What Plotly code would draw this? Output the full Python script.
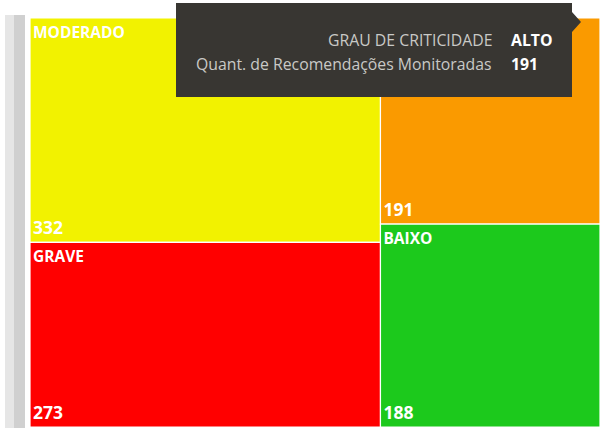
import plotly.graph_objects as go

categories = ["MODERADO", "GRAVE", "ALTO", "BAIXO"]
values = [332, 273, 191, 188]
colors = ["#F2F200", "#FF0000", "#FA9A00", "#1CC91C"]

tooltip_labels = ["GRAU DE CRITICIDADE", "Quant. de Recomendações Monitoradas"]
tooltip_values = ["ALTO", "191"]
hovered = "ALTO"  # its tile label is covered by the tooltip

W, H = 600, 428
L, R, T, B = 30, 0, 18, 1
PW, PH = W - L - R, H - T - B

def px(x):
    return (x - L) / PW

def py(y):
    return 1 - (y - T) / PH

fig = go.Figure()

common = dict(
    labels=categories,
    parents=[""] * len(categories),
    values=values,
    sort=True,
    tiling=dict(packing="squarify", squarifyratio=1, pad=0),
    pathbar=dict(visible=False),
    hoverinfo="skip",
)

fig.add_trace(go.Treemap(
    **common,
    marker=dict(colors=colors, line=dict(color="#FFFFFF", width=1.2),
                pad=dict(t=0, l=0, r=0, b=0)),
    texttemplate=["" if c == hovered else "<b>%{label}</b>" for c in categories],
    textposition="top left",
    textfont=dict(family="Open Sans", size=15.5, color="#FFFFFF"),
))
fig.add_trace(go.Treemap(
    **common,
    marker=dict(colors=["rgba(0,0,0,0)"] * 4, line=dict(color="rgba(0,0,0,0)", width=0),
                pad=dict(t=0, l=0, r=0, b=0)),
    texttemplate="<b>%{value}</b>",
    textposition="bottom left",
    textfont=dict(family="Open Sans", size=17.5, color="#FFFFFF"),
))

shapes = []
# left gray shadow bar
shapes.append(dict(type="rect", xref="paper", yref="paper",
                   x0=px(5), x1=px(14), y0=py(15), y1=py(428),
                   fillcolor="#E6E6E6", line=dict(width=0), layer="below"))
shapes.append(dict(type="rect", xref="paper", yref="paper",
                   x0=px(14), x1=px(25), y0=py(15), y1=py(428),
                   fillcolor="#D0D0D0", line=dict(width=0), layer="below"))
# tooltip box with arrow
bx0, bx1, by0, by1 = 176, 572, 3, 97
path = (f"M {px(bx0)},{py(by0)} L {px(bx1)},{py(by0)} L {px(bx1)},{py(12)} "
        f"L {px(581)},{py(22)} L {px(bx1)},{py(32)} L {px(bx1)},{py(by1)} "
        f"L {px(bx0)},{py(by1)} Z")
shapes.append(dict(type="path", xref="paper", yref="paper", path=path,
                   fillcolor="#383632", line=dict(width=0), layer="above"))

annotations = []
rows_y = [40, 64]
for lab, val, yy in zip(tooltip_labels, tooltip_values, rows_y):
    annotations.append(dict(xref="paper", yref="paper", x=px(494), y=py(yy),
                            xanchor="right", yanchor="middle", showarrow=False,
                            text=lab, font=dict(family="Open Sans", size=15.8, color="#C9C9C6")))
    annotations.append(dict(xref="paper", yref="paper", x=px(509), y=py(yy),
                            xanchor="left", yanchor="middle", showarrow=False,
                            text=f"<b>{val}</b>", font=dict(family="Open Sans", size=15.8, color="#FFFFFF")))

fig.update_layout(
    width=W, height=H,
    margin=dict(l=L, r=R, t=T, b=B),
    paper_bgcolor="#FFFFFF",
    showlegend=False,
    shapes=shapes,
    annotations=annotations,
)

fig.write_html("out.html", config={"displayModeBar": False},
               post_script="document.body.style.margin='0';")
